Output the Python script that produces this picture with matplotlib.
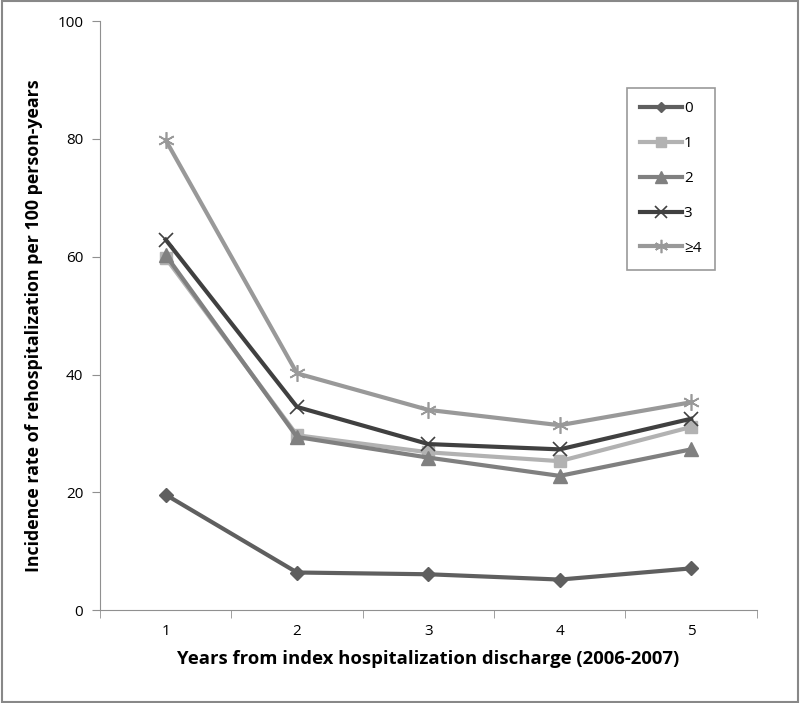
import matplotlib.pyplot as plt
from matplotlib.patches import Rectangle

plt.rcParams['font.family'] = ['Open Sans', 'DejaVu Sans']

years = [1, 2, 3, 4, 5]
labels = ['0', '1', '2', '3', '≥4']
y0 = [19.6, 6.4, 6.1, 5.2, 7.1]
y1 = [59.8, 29.7, 26.8, 25.3, 31.1]
y2 = [60.3, 29.4, 25.9, 22.8, 27.3]
y3 = [62.9, 34.5, 28.2, 27.3, 32.5]
y4 = [79.8, 40.2, 34.0, 31.4, 35.3]

fig = plt.figure(figsize=(8, 7.03), dpi=100)
ax = fig.add_axes([0.125, 0.132, 0.821, 0.838])

ax.plot(years, y0, color='#5f5f5f', lw=3, marker='D', ms=7, label=labels[0])
ax.plot(years, y1, color='#b2b2b2', lw=3, marker='s', ms=9, label=labels[1])
ax.plot(years, y2, color='#808080', lw=3, marker='^', ms=10, label=labels[2])
ax.plot(years, y3, color='#404040', lw=3, marker='x', ms=10, mew=1.2, label=labels[3])
ax.plot(years, y4, color='#999999', lw=3, marker=(6, 2, 0), ms=12, mew=1.2, label=labels[4])

ax.set_xlim(0.5, 5.5)
ax.set_ylim(0, 100)
ax.set_yticks([0, 20, 40, 60, 80, 100])
ax.set_xticks(years)
ax.set_xticks([0.5, 1.5, 2.5, 3.5, 4.5, 5.5], minor=True)
ax.tick_params(axis='x', which='major', length=0, pad=10, labelsize=11)
ax.tick_params(axis='x', which='minor', length=6, color='#909090')
ax.tick_params(axis='y', length=6, color='#909090', labelsize=11, pad=6)

for s in ['top', 'right']:
    ax.spines[s].set_visible(False)
for s in ['left', 'bottom']:
    ax.spines[s].set_color('#909090')

ax.set_xlabel('Years from index hospitalization discharge (2006-2007)',
              fontsize=13.3, fontweight='bold', labelpad=8)
ax.set_ylabel('Incidence rate of rehospitalization per 100 person-years',
              fontsize=12.8, fontweight='bold')
ax.yaxis.set_label_coords(-0.087, 0.483)

leg = ax.legend(loc='upper left', bbox_to_anchor=(0.79, 0.9), fontsize=11,
                frameon=True, fancybox=False, edgecolor='#808080',
                handlelength=2.75, labelspacing=1.3, borderpad=0.9, handletextpad=0.1,
                markerscale=0.8)
leg.get_frame().set_linewidth(1.2)

fig.patches.append(Rectangle((0.002, 0.002), 0.996, 0.996, transform=fig.transFigure,
                             fill=False, edgecolor='#888888', lw=1.5))

fig.savefig('out.png', dpi=100)
